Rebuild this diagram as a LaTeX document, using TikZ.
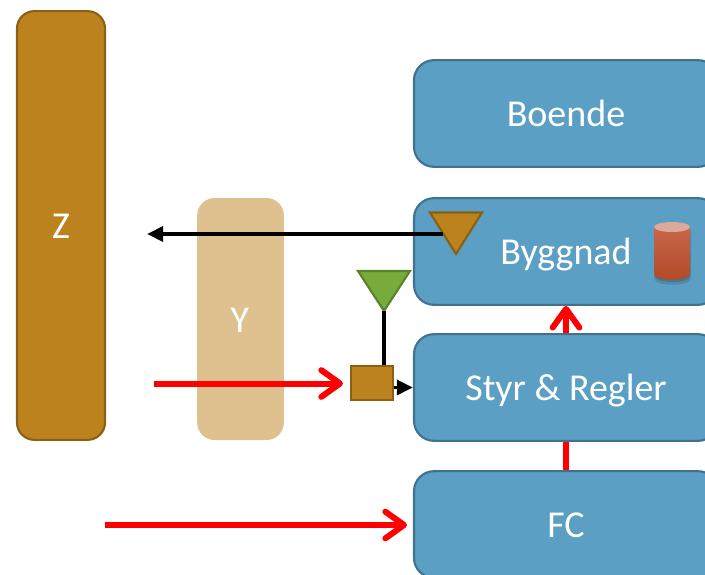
\documentclass[tikz,border=0pt]{standalone}
\usepackage{fontspec}
\setmainfont{Carlito}
\usetikzlibrary{arrows.meta}
\definecolor{boxblue}{RGB}{91,159,196}
\definecolor{boxedge}{RGB}{65,113,143}
\definecolor{brownfill}{RGB}{188,130,30}
\definecolor{brownedge}{RGB}{139,96,20}
\definecolor{sandfill}{RGB}{223,193,143}
\definecolor{greenfill}{RGB}{120,171,59}
\definecolor{greenedge}{RGB}{90,130,41}
\definecolor{cyltop}{RGB}{200,102,76}
\definecolor{cylbottom}{RGB}{176,74,39}
\definecolor{cyllid}{RGB}{221,169,154}
\tikzset{
  layerbox/.style={draw=boxedge,line width=1.6pt,fill=boxblue,rounded corners=15pt,text=white,
    minimum width=228pt,minimum height=80pt,font=\fontsize{28.5}{30}\selectfont,
    text height=24pt,text depth=4pt},
  zbox/.style={draw=brownedge,line width=1.6pt,fill=brownfill,rounded corners=13pt,
    minimum width=66pt,minimum height=321.5pt},
  ybox/.style={fill=sandfill,rounded corners=13pt,minimum width=65pt,minimum height=181.5pt},
  boxlabel/.style={text=white,font=\fontsize{28.5}{30}\selectfont},
  redarrow/.style={draw=red,line width=4.5pt,-{Straight Barb[length=14pt,width=20pt,line width=4.5pt,round]}},
  blackarrow/.style={draw=black,line width=2.8pt,-{Triangle[length=12pt,width=11pt]}},
}
\begin{document}
\begin{tikzpicture}[x=0.75pt,y=0.75pt,yscale=-1,xscale=1]
\useasboundingbox (0,0) rectangle (705,574);
\clip (0,0) rectangle (705,574);

% side bars
\node [zbox] (zbar) at (61,225.5) {};
\node [ybox] (ybar) at (240.5,319) {};
\node [boxlabel] (zlabel) at (61,226) {Z};
\node [boxlabel] (ylabel) at (240,320) {Y};

% stack
\node [layerbox] (boende) at (566,113.5) {Boende};
\node [layerbox] (byggnad) at (566,251.5) {Byggnad};
\node [layerbox] (fc) at (566,524.5) {FC};
\draw [redarrow] (fc.north) -- (byggnad.south);
\node [layerbox] (styr) at (566,387.5) {Styr \& Regler};

% triangles
\draw [draw=brownedge,fill=brownfill,line width=1.6pt] (430,212.5) -- (482,212.5) -- (456,254) -- cycle;
\coordinate (browntri) at (443,234);
\coordinate (leftend) at (147,234);
\draw [blackarrow] (browntri) -- (leftend);
\draw [draw=greenedge,fill=greenfill,line width=1.6pt] (358,271) -- (410,271) -- (384,311) -- cycle;
\coordinate (greentip) at (384,311);

% small box
\node [draw=brownedge,fill=brownfill,line width=1.6pt,minimum width=31pt,minimum height=25pt,inner sep=0pt] (valve) at (372,383) {};
\draw [draw=black,line width=2.8pt] (greentip) -- (greentip |- valve.north);
\draw [blackarrow] (valve.east |- styr.west) -- (styr.west);

% red inputs
\coordinate (ctrlstart) at (154,383.5);
\coordinate (ctrlend) at (343,383.5);
\draw [redarrow] (ctrlstart) -- (ctrlend);
\coordinate (fcstart) at (105,525);
\coordinate (fcend) at (407,525);
\draw [redarrow] (fcstart) -- (fcend);

% cylinder
\fill [black,opacity=0.12] (654,230) -- (654,278) .. controls (654,287) and (691,287) .. (691,278) -- (691,230) -- cycle;
\fill [black,opacity=0.15] (655,230) -- (655,276) .. controls (655,284) and (690,284) .. (690,276) -- (690,230) -- cycle;
\shade [top color=cyltop,bottom color=cylbottom]
  (654,227) -- (654,274) .. controls (654,282) and (690,282) .. (690,274) -- (690,227) -- cycle;
\fill [cyllid] (672,227) ellipse [x radius=18,y radius=5];
\end{tikzpicture}
\end{document}
